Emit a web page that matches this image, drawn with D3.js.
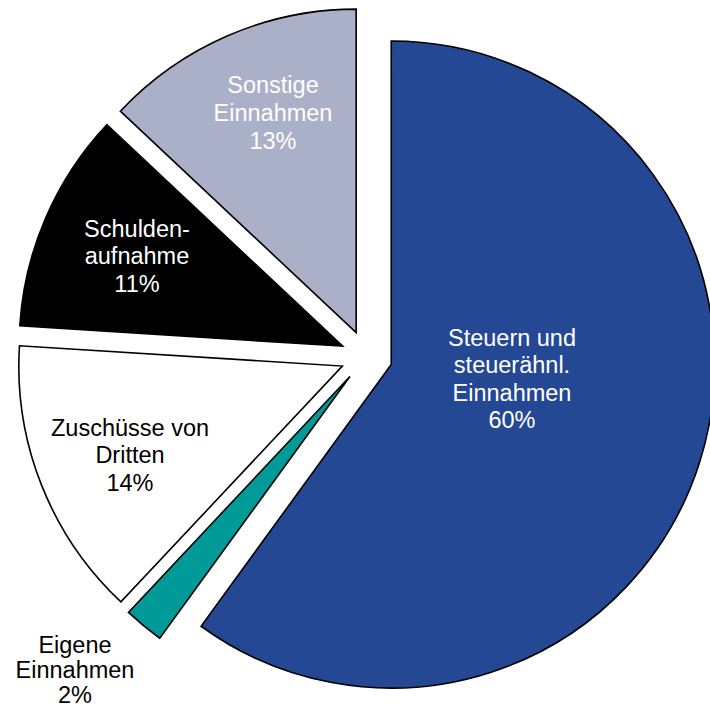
<!DOCTYPE html>
<html><head><meta charset="utf-8">
<script src="https://cdn.jsdelivr.net/npm/d3@7"></script>
<style>html,body{margin:0;padding:0;background:#fff;}svg{display:block;}</style>
</head><body>
<svg id="chart" width="710" height="708"></svg>
<script>
// Data
const categories = ["Steuern und steuerähnl. Einnahmen", "Eigene Einnahmen", "Zuschüsse von Dritten", "Schuldenaufnahme", "Sonstige Einnahmen"];
const labelLines = [["Steuern und", "steuerähnl.", "Einnahmen"], ["Eigene", "Einnahmen"], ["Zuschüsse von", "Dritten"], ["Schulden-", "aufnahme"], ["Sonstige", "Einnahmen"]];
const values = [60, 2, 14, 11, 13];

// Styles / layout (separate from data)
const colors = ["#254894", "#009A98", "#FFFFFF", "#000000", "#ABB0C9"];
const textColors = ["#fff", "#000", "#000", "#fff", "#fff"];
const labelCenters = [[512, 379], [75, 670], [130, 455], [137, 256], [273, 113]];
const lineGap = [27.5, 25, 27.5, 27.5, 28];

const cx = 366.5, cy = 356.5, R = 323.5, explode = 26;
const svg = d3.select("#chart");
const total = d3.sum(values);
const pie = d3.pie().sort(null).value(d => d).startAngle(0).endAngle(2 * Math.PI);
const arc = d3.arc().innerRadius(0).outerRadius(R);
const arcs = pie(values);

const g = svg.append("g").attr("transform", `translate(${cx},${cy})`);
g.selectAll("path").data(arcs).join("path")
  .attr("d", arc)
  .attr("transform", d => {
    const m = (d.startAngle + d.endAngle) / 2;
    return `translate(${explode * Math.sin(m)},${-explode * Math.cos(m)})`;
  })
  .attr("fill", (d, i) => colors[i])
  .attr("stroke", "#000")
  .attr("stroke-width", 1.6)
  .attr("stroke-linejoin", "miter");

arcs.forEach((d, i) => {
  const lines = labelLines[i].concat([Math.round(values[i] / total * 100) + "%"]);
  const [x, y] = labelCenters[i];
  const gap = lineGap[i];
  const t = svg.append("text")
    .attr("x", x)
    .attr("text-anchor", "middle")
    .attr("font-family", "Liberation Sans, Arial, sans-serif")
    .attr("font-size", 23.5)
    .attr("fill", textColors[i]);
  lines.forEach((ln, k) => {
    t.append("tspan")
      .attr("x", x)
      .attr("y", y + (k - (lines.length - 1) / 2) * gap)
      .attr("dy", "0.35em")
      .text(ln);
  });
});
</script>
</body></html>
